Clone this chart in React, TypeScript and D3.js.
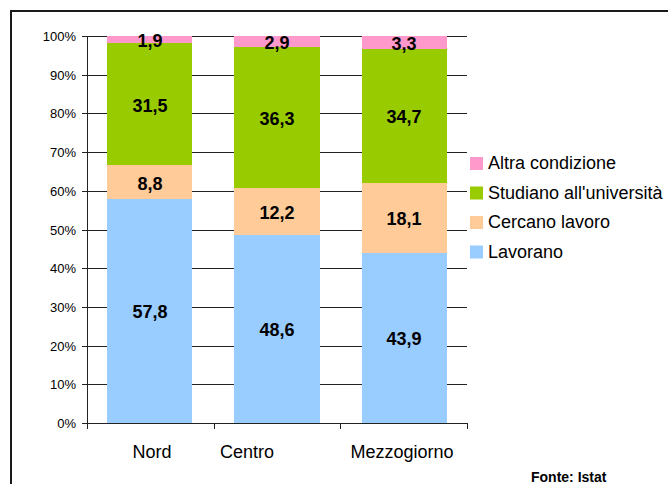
import React from "react";
import * as d3 from "d3";

const regions = ["Nord", "Centro", "Mezzogiorno"];
const seriesNames = ["Lavorano", "Cercano lavoro", "Studiano all'università", "Altra condizione"];
const lavorano = [57.8, 48.6, 43.9];
const cercano = [8.8, 12.2, 18.1];
const studiano = [31.5, 36.3, 34.7];
const altra = [1.9, 2.9, 3.3];
const yTicks = [0, 10, 20, 30, 40, 50, 60, 70, 80, 90, 100];

const colors = ["#99CCFF", "#FFCC99", "#99CC00", "#FF99CC"];
// category labels in the original are not centred on their bands
const labelShift = [2, -30, -2];

const W = 668;
const H = 484;
const margin = { left: 87, top: 36, right: 201, bottom: 61 };
const font = "'Liberation Sans', Arial, sans-serif";

const App = () => {
  const x = d3
    .scaleBand()
    .domain(regions)
    .range([margin.left, W - margin.right])
    .paddingInner(0.33)
    .paddingOuter(0.16);

  const y = d3
    .scaleLinear()
    .domain([0, 100])
    .range([H - margin.bottom, margin.top]);

  const table = regions.map((r, i) => ({
    region: r,
    s0: lavorano[i],
    s1: cercano[i],
    s2: studiano[i],
    s3: altra[i],
  }));
  const stack = d3.stack<any>().keys(["s0", "s1", "s2", "s3"])(table);

  const step = (W - margin.right - margin.left) / regions.length;
  const fmt = (v: number) => v.toFixed(1).replace(".", ",");

  return (
    <svg width={W} height={H} style={{ position: "absolute", left: 0, top: 0, fontFamily: font }}>
      <rect x={0} y={0} width={W} height={H} fill="#fff" />
      <rect x={11} y={11} width={W + 20} height={H + 20} fill="none" stroke="#1a1a1a" strokeWidth={2} />

      {yTicks.map((t) => (
        <g key={t} transform={`translate(0,${Math.round(y(t)) + 0.5})`}>
          <line x1={margin.left - 5} x2={W - margin.right} stroke="#222" shapeRendering="crispEdges" />
          <text x={margin.left - 11} dy="0.35em" textAnchor="end" fontSize={13} fill="#000">
            {t}%
          </text>
        </g>
      ))}

      {stack.map((layer, si) => (
        <g key={si} fill={colors[si]}>
          {layer.map((d, i) => (
            <rect
              key={i}
              x={x(regions[i])}
              width={x.bandwidth()}
              y={y(d[1])}
              height={y(d[0]) - y(d[1])}
              shapeRendering="crispEdges"
            />
          ))}
        </g>
      ))}

      {stack.map((layer, si) =>
        layer.map((d, i) => (
          <text
            key={`${si}-${i}`}
            x={(x(regions[i]) as number) + x.bandwidth() / 2}
            y={(y(d[0]) + y(d[1])) / 2 + 1}
            dy="0.35em"
            textAnchor="middle"
            fontSize={18}
            fontWeight="bold"
            fill="#000"
          >
            {fmt(d[1] - d[0])}
          </text>
        ))
      )}

      <line
        x1={margin.left + 0.5}
        x2={margin.left + 0.5}
        y1={margin.top}
        y2={H - margin.bottom + 6}
        stroke="#222"
        shapeRendering="crispEdges"
      />
      {d3.range(regions.length + 1).map((k) => (
        <line
          key={k}
          x1={Math.round(margin.left + k * step) + 0.5}
          x2={Math.round(margin.left + k * step) + 0.5}
          y1={H - margin.bottom}
          y2={H - margin.bottom + 6}
          stroke="#222"
          shapeRendering="crispEdges"
        />
      ))}

      {regions.map((r, i) => (
        <text
          key={r}
          x={(x(r) as number) + x.bandwidth() / 2 + labelShift[i]}
          y={H - margin.bottom + 29}
          dy="0.35em"
          textAnchor="middle"
          fontSize={18}
          fill="#000"
        >
          {r}
        </text>
      ))}

      {seriesNames
        .map((name, i) => ({ name, color: colors[i], i }))
        .reverse()
        .map((s, k) => (
          <g key={s.name} transform={`translate(470,${163 + k * 29.5})`}>
            <rect x={0} y={-6} width={13} height={13} fill={s.color} />
            <text x={18} dy="0.35em" fontSize={18} fill="#000">
              {s.name}
            </text>
          </g>
        ))}

      <text x={531} y={482} fontSize={14} fontWeight="bold" fill="#000">
        Fonte: Istat
      </text>
    </svg>
  );
};

export default App;
